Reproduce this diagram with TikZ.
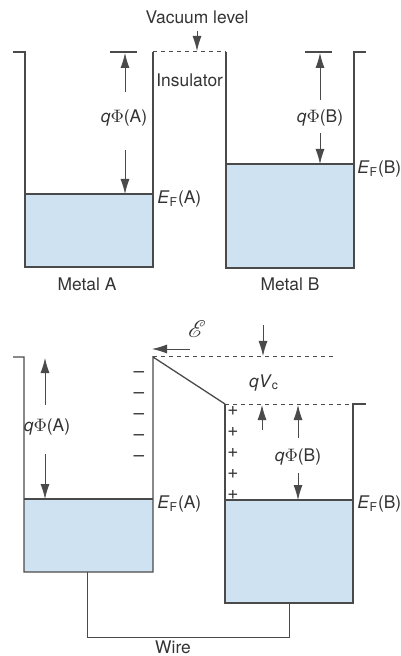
\documentclass[tikz,border=0pt]{standalone}
\usepackage{amsmath,amssymb}
\usepackage{mathrsfs}
\usepackage{fontspec}
\setmainfont{TeX Gyre Heros}
\usepackage{xcolor}
\usepackage{tikz}
\usetikzlibrary{arrows.meta,positioning,calc}
\definecolor{bdwall}{HTML}{4A4A4A}
\definecolor{bdtext}{HTML}{333333}
\definecolor{bdsea}{HTML}{CFE2F2}

\tikzset{
  wall/.style={draw=bdwall, line width=0.65pt},
  sea/.style={fill=bdsea, draw=bdwall, line width=0.65pt},
  lvl/.style={draw=bdwall, line width=0.5pt, dash pattern=on 2.2pt off 1.8pt},
  arr/.style={draw=bdwall, line width=0.45pt, -{Latex[length=7.5pt,width=4.5pt]}},
  lbl/.style={text=bdtext, font=\fontsize{8.7}{10}\selectfont, inner sep=0.5pt},
  chg/.style={text=bdtext, font=\fontsize{9.5}{10}\selectfont, inner sep=0pt}
}

\begin{document}
\begin{tikzpicture}[x=0.5pt, y=-0.5pt]
  \useasboundingbox (0,0) rectangle (400,656);

  % ---- isolated metals ----
  \fill[bdsea] (25,194) rectangle (153,267);
  \draw[wall] (25,194) -- (153,194);
  \draw[wall] (13,52) -- (25,52) -- (25,267) -- (153,267) -- (153,52);
  \draw[wall] (110,52) -- (137,52);
  \draw[lvl] (153,52) -- (226,52);
  \fill[bdsea] (226,164) rectangle (354,268);
  \draw[wall] (226,164) -- (354,164);
  \draw[wall] (226,52) -- (226,268) -- (354,268) -- (354,52) -- (366,52);
  \draw[wall] (305,52) -- (332,52);

  \node[lbl] (vac) at (197,17) {Vacuum level};
  \node[lbl, anchor=west] (ins) at (155,80) {Insulator};
  \node[lbl] (phiA) at (124,118) {\textit{q}$\Phi$(A)};
  \node[lbl] (phiB) at (320,118) {\textit{q}$\Phi$(B)};
  \node[lbl, anchor=west] (efA) at (156,199) {\textit{E}\textsubscript{F}(A)};
  \node[lbl, anchor=west] (efB) at (356,169) {\textit{E}\textsubscript{F}(B)};
  \node[lbl] (metA) at (87,284) {Metal A};
  \node[lbl] (metB) at (290,284) {Metal B};

  \coordinate (vacT) at (197,31);   \coordinate (vacH) at (197,51);
  \coordinate (aT1) at (125,92);    \coordinate (aH1) at (125,53);
  \coordinate (aT2) at (125,150);   \coordinate (aH2) at (125,194);
  \coordinate (bT1) at (320,100);   \coordinate (bH1) at (320,53);
  \coordinate (bT2) at (320,133);   \coordinate (bH2) at (320,164);
  \draw[arr] (vacT) -- (vacH);
  \draw[arr] (aT1) -- (aH1);
  \draw[arr] (aT2) -- (aH2);
  \draw[arr] (bT1) -- (bH1);
  \draw[arr] (bT2) -- (bH2);

  % ---- metals joined by a wire ----
  \fill[bdsea] (24,499) rectangle (153,572);
  \draw[wall] (24,499) -- (153,499);
  \draw[wall] (13,357) -- (24,357) -- (24,572) -- (153,572) -- (153,357) -- (225,404);
  \draw[lvl] (153,357) -- (333,357);
  \draw[lvl] (225,404) -- (353,404);
  \fill[bdsea] (225,500) rectangle (353,603);
  \draw[wall] (225,500) -- (353,500);
  \draw[wall] (225,404) -- (225,603) -- (353,603) -- (353,404) -- (366,404);

  \coordinate (wA) at (87,572);
  \coordinate (wB) at (289,603);
  \draw[wall, line width=0.5pt] (wA) -- (87,637) -- (289,637) -- (wB);
  \node[lbl] (wire) at (173,647) {Wire};

  \node[lbl, font=\fontsize{13}{14}\selectfont] (fld) at (197,329) {$\mathscr{E}$};
  \node[lbl] (qvc) at (264,383) {\textit{qV}\textsubscript{c}};
  \node[lbl] (phiA2) at (47,427) {\textit{q}$\Phi$(A)};
  \node[lbl] (phiB2) at (298,457) {\textit{q}$\Phi$(B)};
  \node[lbl, anchor=west] (efA2) at (156,504) {\textit{E}\textsubscript{F}(A)};
  \node[lbl, anchor=west] (efB2) at (356,504) {\textit{E}\textsubscript{F}(B)};

  \foreach \k [count=\i] in {375,396,417,438,459}
    \node[chg] (neg\i) at (139,\k) {--};
  \foreach \k [count=\i] in {411,432,453,474,495}
    \node[chg] (pos\i) at (233,\k) {+};

  \coordinate (fT) at (190,349);    \coordinate (fH) at (152,349);
  \coordinate (cT) at (263,325);    \coordinate (cH) at (263,356);
  \coordinate (cT2) at (262,430);   \coordinate (cH2) at (262,405);
  \coordinate (pT1) at (45,405);    \coordinate (pH1) at (45,358);
  \coordinate (pT2) at (45,454);    \coordinate (pH2) at (45,499);
  \coordinate (qT1) at (298,438);   \coordinate (qH1) at (298,405);
  \coordinate (qT2) at (298,473);   \coordinate (qH2) at (298,500);
  \draw[arr] (fT) -- (fH);
  \draw[arr] (cT) -- (cH);
  \draw[arr] (cT2) -- (cH2);
  \draw[arr] (pT1) -- (pH1);
  \draw[arr] (pT2) -- (pH2);
  \draw[arr] (qT1) -- (qH1);
  \draw[arr] (qT2) -- (qH2);
\end{tikzpicture}
\end{document}
